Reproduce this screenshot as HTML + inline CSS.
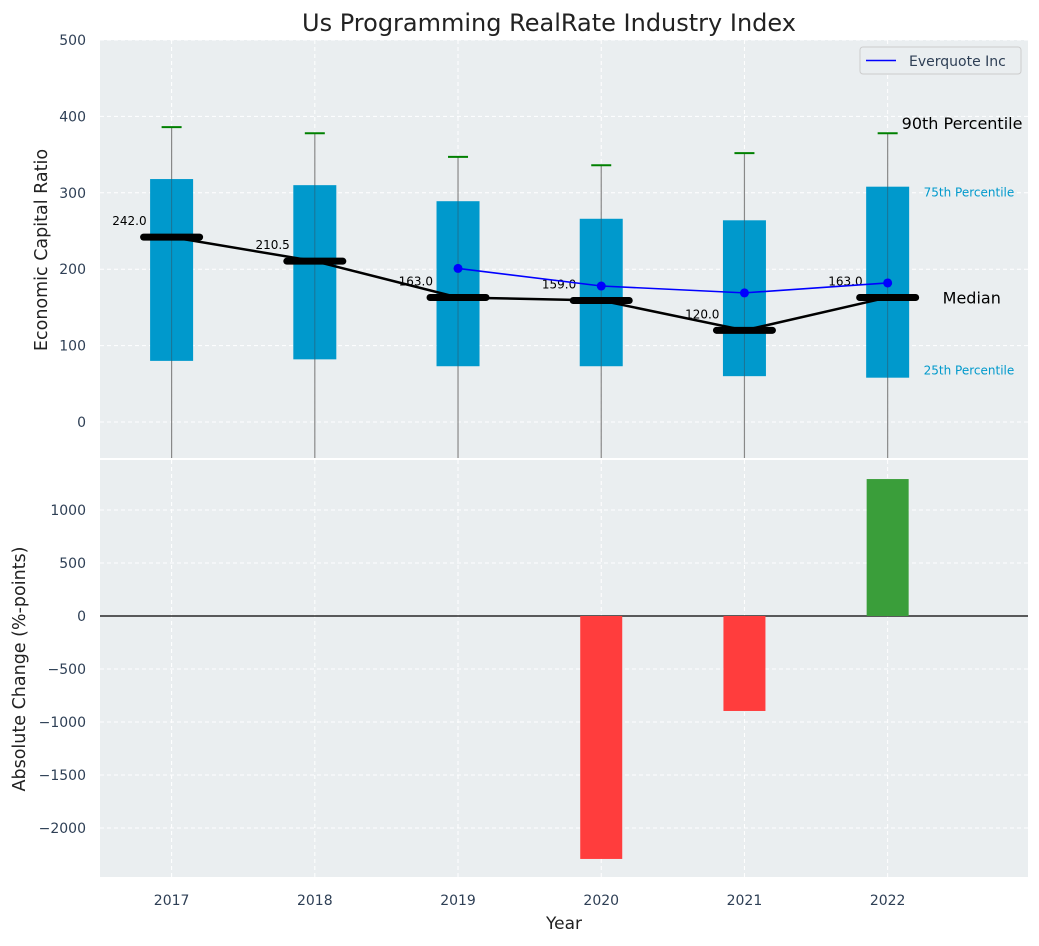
<!DOCTYPE html>
<html><head><meta charset="utf-8"><style>
body{margin:0;background:#fff;font-family:"DejaVu Sans","Liberation Sans",sans-serif}
svg text{font-family:"DejaVu Sans","Liberation Sans",sans-serif}
</style></head><body>
<svg id="c" width="1039" height="942" xmlns="http://www.w3.org/2000/svg"></svg>
<script>
const years=[2017,2018,2019,2020,2021,2022];
const p25=[80,82,73,73,60,58];
const p75=[318,310,289,266,264,308];
const p90=[386,378,347,336,352,378];
const medians=[242,210.5,163,159,120,163];
const compYears=[2019,2020,2021,2022];
const compVals=[201,178,169,182];
const changes=[0,0,0,-2292,-896,1292];
const topTicks=[0,100,200,300,400,500];
const botTicks=[-2000,-1500,-1000,-500,0,500,1000];
const botTickLabels=['\u22122000','\u22121500','\u22121000','\u2212500','0','500','1000'];

const svg=document.getElementById('c');const NS='http://www.w3.org/2000/svg';
function el(t,a,txt){const e=document.createElementNS(NS,t);for(const k in a)e.setAttribute(k,a[k]);if(txt!=null)e.textContent=txt;svg.appendChild(e);return e;}
const L=100,R=1028;
const x=v=>L+(v-2016.5)*(R-L)/6.48;
const yT=v=>422-v*0.764;
const yB=v=>616-v*0.106;
let e=el('rect',{x:L,y:40,width:R-L,height:418,fill:'#eaeef0'});

e=el('rect',{x:L,y:460,width:R-L,height:417,fill:'#eaeef0'});

topTicks.forEach(t=>{el('line',{x1:L,x2:R,y1:yT(t),y2:yT(t),stroke:'#fff','stroke-dasharray':'4,3'});
 e=el('text',{x:86,y:yT(t)+5,'text-anchor':'end','font-size':14,fill:'#2e3f55'},t);
 });
botTicks.forEach((t,i)=>{el('line',{x1:L,x2:R,y1:yB(t),y2:yB(t),stroke:'#fff','stroke-dasharray':'4,3'});
 e=el('text',{x:86,y:yB(t)+5,'text-anchor':'end','font-size':14,fill:'#2e3f55'},botTickLabels[i]);
 });
years.forEach(yr=>{el('line',{x1:x(yr),x2:x(yr),y1:40,y2:458,stroke:'#fff','stroke-dasharray':'4,3'});
 el('line',{x1:x(yr),x2:x(yr),y1:460,y2:877,stroke:'#fff','stroke-dasharray':'4,3'});
 e=el('text',{x:x(yr),y:905,'text-anchor':'middle','font-size':14,fill:'#2e3f55'},yr);
 });
years.forEach((yr,i)=>{const cx=x(yr);
 el('line',{x1:cx,x2:cx,y1:yT(p90[i]),y2:458,stroke:'#888','stroke-width':1.2});
 e=el('rect',{x:cx-21.5,y:yT(p75[i]),width:43,height:yT(p25[i])-yT(p75[i]),fill:'#0099cc'});
 
 el('line',{x1:cx,x2:cx,y1:yT(p75[i]),y2:yT(p25[i]),stroke:'#2e5a6e','stroke-width':1,opacity:0.6});
 e=el('line',{x1:cx-10,x2:cx+10,y1:yT(p90[i]),y2:yT(p90[i]),stroke:'green','stroke-width':2});
 
});
e=el('polyline',{points:years.map((yr,i)=>x(yr)+','+yT(medians[i])).join(' '),fill:'none',stroke:'#000','stroke-width':2.5});

years.forEach((yr,i)=>{const cx=x(yr),cy=yT(medians[i]);
 e=el('line',{x1:cx-28,x2:cx+28,y1:cy,y2:cy,stroke:'#000','stroke-width':7,'stroke-linecap':'round'});
 
 e=el('text',{x:cx-25,y:cy-12,'text-anchor':'end','font-size':12,fill:'#000'},medians[i].toFixed(1));
 });
e=el('polyline',{points:compYears.map((yr,i)=>x(yr)+','+yT(compVals[i])).join(' '),fill:'none',stroke:'blue','stroke-width':1.6});

compYears.forEach((yr,i)=>{e=el('circle',{cx:x(yr),cy:yT(compVals[i]),r:4.5,fill:'blue'});
 });
const last=x(2022);
e=el('text',{x:last+14,y:yT(p90[5])-4,'font-size':16,fill:'#000'},'90th Percentile');
e=el('text',{x:last+36,y:yT(p75[5])+10,'font-size':12,fill:'#0099cc'},'75th Percentile');
e=el('text',{x:last+55,y:yT(medians[5])+6,'font-size':16,fill:'#000'},'Median');
e=el('text',{x:last+36,y:yT(p25[5])-3,'font-size':12,fill:'#0099cc'},'25th Percentile');
e=el('rect',{x:860,y:47,width:161,height:27,fill:'#eaeef0',stroke:'#ccc',rx:3});
el('line',{x1:866,x2:896,y1:60.5,y2:60.5,stroke:'blue','stroke-width':1.6});
e=el('text',{x:909,y:66,'font-size':14,fill:'#2e3f55'},'Everquote Inc');
el('line',{x1:L,x2:R,y1:yB(0),y2:yB(0),stroke:'#000','stroke-width':1.2});
years.forEach((yr,i)=>{if(!changes[i])return;const v=changes[i];
 e=el('rect',{x:x(yr)-21,y:Math.min(yB(0),yB(v)),width:42,height:Math.abs(yB(v)-yB(0)),fill:v<0?'#ff3d3d':'#3a9e3a'});
 });
e=el('text',{x:549,y:31,'text-anchor':'middle','font-size':24,fill:'#222'},'Us Programming RealRate Industry Index');
e=el('text',{x:564,y:929,'text-anchor':'middle','font-size':17,fill:'#222'},'Year');
e=el('text',{x:0,y:0,'text-anchor':'middle','font-size':17.5,fill:'#222',transform:'translate(47,250) rotate(-90)'},'Economic Capital Ratio');
e=el('text',{x:0,y:0,'text-anchor':'middle','font-size':17.5,fill:'#222',transform:'translate(25,669) rotate(-90)'},'Absolute Change (%-points)');
</script>
</body></html>
